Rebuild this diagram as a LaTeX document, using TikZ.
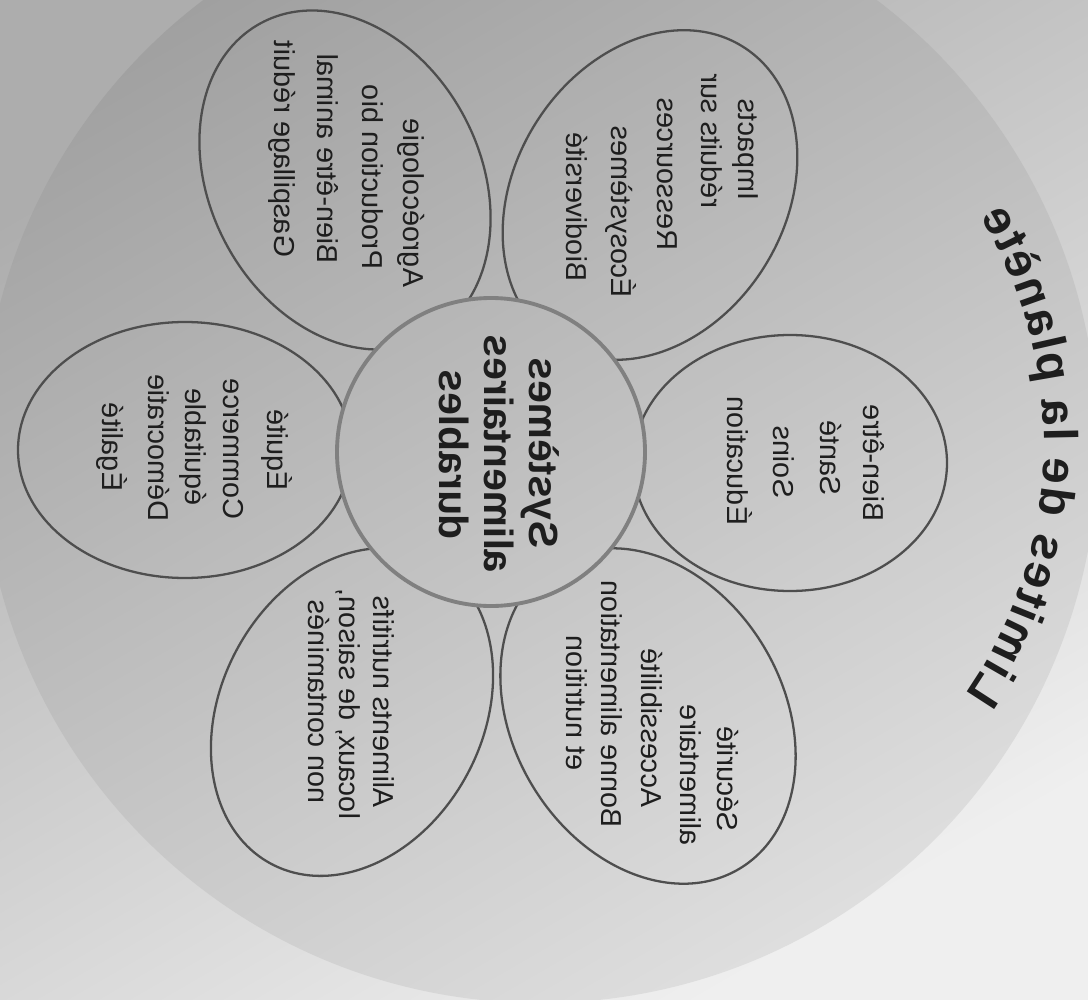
\documentclass[tikz,border=0pt]{standalone}
\usepackage{fontspec}
\setmainfont{Liberation Sans}
\definecolor{ink}{HTML}{1E1E1E}
\definecolor{petalline}{HTML}{4E4E4E}
\definecolor{coreline}{HTML}{808080}
\definecolor{bgA}{HTML}{ADADAD}
\definecolor{bgB}{HTML}{EFEFEF}
\definecolor{dA}{HTML}{A0A0A0}
\definecolor{dB}{HTML}{DEDEDE}
\tikzset{
  bgshade/.style={top color=bgA, bottom color=bgB, shading angle=30},
  discshade/.style={top color=dA, bottom color=dB, shading angle=30},
  petal/.style={draw=petalline, line width=1.3pt},
  lbl/.style={font=\fontsize{16.4}{20}\selectfont, text=ink, inner sep=0pt,
              text height=10pt, text depth=0pt, rotate=90, yscale=-1},
  corelbl/.style={font=\fontsize{23.2}{26}\selectfont\bfseries, text=ink, inner sep=0pt,
              text height=14pt, text depth=0pt, rotate=90, yscale=-1},
  titlech/.style={font=\fontsize{27}{31}\selectfont\bfseries, text=ink, inner sep=0pt, anchor=base}
}
\begin{document}
\begin{tikzpicture}[x=0.02cm, y=0.02cm]
\useasboundingbox (0,0) rectangle (1088,-1000);
% paper and planet disc
\shade[bgshade] (0,0) rectangle (1088,-1000);
\shade[discshade] (540,-445) circle [radius=558];
% petals
\draw[petal, rotate around={0:(790,-463)}] (790,-463) ellipse [x radius=157, y radius=128];
\draw[petal, rotate around={58:(650,-195)}] (650,-195) ellipse [x radius=175, y radius=135];
\draw[petal, rotate around={118:(345,-180)}] (345,-180) ellipse [x radius=178, y radius=135];
\draw[petal, rotate around={0:(185,-450)}] (185,-450) ellipse [x radius=167, y radius=128];
\draw[petal, rotate around={242:(352,-712)}] (352,-712) ellipse [x radius=172, y radius=131];
\draw[petal, rotate around={-59:(648,-716)}] (648,-716) ellipse [x radius=178, y radius=135];
% heart of the flower
\begin{scope}
  \clip (491,-452) circle [radius=154];
  \shade[discshade] (540,-445) circle [radius=558];
\end{scope}
\draw[coreline, line width=2.2pt] (491,-452) circle [radius=154];
% centre text
\node[corelbl] (c1) at (542,-453) {Systèmes};
\node[corelbl] (c2) at (497,-454) {alimentaires};
\node[corelbl] (c3) at (452,-455) {durables};
% petal 1
\node[lbl] (p1a) at (872,-463) {Bien-être};
\node[lbl] (p1b) at (829,-458) {Santé};
\node[lbl] (p1c) at (782,-462) {Soins};
\node[lbl] (p1d) at (736,-461) {Éducation};
% petal 2
\node[lbl] (p2a) at (747,-150) {Impacts};
\node[lbl] (p2b) at (710,-141) {réduits sur};
\node[lbl] (p2c) at (666,-174) {Ressources};
\node[lbl] (p2d) at (620,-212) {Écosystèmes};
\node[lbl] (p2e) at (575,-207) {Biodiversité};
% petal 3
\node[lbl] (p3a) at (412,-203) {Agroécologie};
\node[lbl] (p3b) at (371,-177) {Production bio};
\node[lbl] (p3c) at (326,-159) {Bien-être animal};
\node[lbl] (p3d) at (283,-149) {Gaspillage réduit};
% petal 4
\node[lbl] (p4a) at (276,-450) {Équité};
\node[lbl] (p4b) at (232,-449) {Commerce};
\node[lbl] (p4c) at (194,-447) {équitable};
\node[lbl] (p4d) at (157,-448) {Démocratie};
\node[lbl] (p4e) at (111,-447) {Égalité};
% petal 5
\node[lbl] (p5a) at (382,-702) {Aliments nutritifs};
\node[lbl] (p5b) at (348,-704) {locaux, de saison,};
\node[lbl] (p5c) at (317,-702) {non contaminés};
% petal 6
\node[lbl] (p6a) at (726,-779) {Sécurité};
\node[lbl] (p6b) at (689,-775) {alimentaire};
\node[lbl] (p6c) at (650,-728) {Accessibilité};
\node[lbl] (p6d) at (610,-704) {Bonne alimentation};
\node[lbl] (p6e) at (575,-703) {et nutrition};
% title along the arc
\foreach \ch/\o [count=\k] in {L/-4613, i/-4168.5, m/-3585, i/-3001.5, t/-2696, e/-2251.5, s/-1695.5, d/-834, e/-250.5, l/444.5, a/861.5, p/1723, l/2167.5, a/2584.5, n/3168, è/3751.5, t/4196, e/4640.5}
{
  \pgfmathsetmacro\ang{-1.8+\o*0.006749}
  \pgfmathsetmacro\rot{\ang+90}
  \node[titlech, rotate=\rot, yscale=-1] (title\k) at ({606+438*cos(\ang)},{-444+438*sin(\ang)}) {\ch};
}
\end{tikzpicture}
\end{document}
